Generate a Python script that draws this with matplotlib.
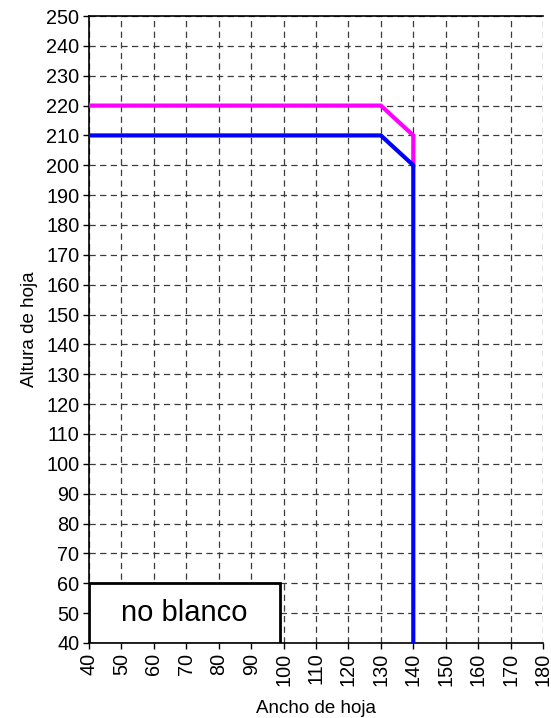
import matplotlib
matplotlib.use("Agg")
import matplotlib.pyplot as plt
from matplotlib.patches import Rectangle

plt.rcParams['font.family'] = ['Liberation Sans', 'DejaVu Sans']

x_magenta = [40, 130, 140, 140]
y_magenta = [220, 220, 210, 200]
x_blue = [40, 130, 140, 140]
y_blue = [210, 210, 200, 40]
x_ticks = list(range(40, 181, 10))
y_ticks = list(range(40, 251, 10))
box_label = "no blanco"
box_x = [40, 98.9]
box_y = [40, 60]

fig = plt.figure(figsize=(5.51, 7.18), dpi=100)
ax = fig.add_axes([0.1615, 0.1045, 0.824, 0.8732])
ax.set_xlim(40, 180)
ax.set_ylim(40, 250)
ax.set_xticks(x_ticks)
ax.set_yticks(y_ticks)
ax.tick_params(axis='both', labelsize=14.3, length=4, width=1, direction='out', color='black', pad=3)
ax.tick_params(axis='x', labelrotation=90)
ax.grid(True, color='#3a3a3a', linestyle=(0, (5, 3.5)), linewidth=0.9)
ax.set_axisbelow(True)
ax.spines['right'].set_visible(False)
for s in ['left', 'bottom', 'top']:
    ax.spines[s].set_linewidth(1.2)

ax.plot(x_magenta, y_magenta, color='#FF00FF', linewidth=3, solid_joinstyle='miter', zorder=3)
ax.plot(x_blue, y_blue, color='#0000FF', linewidth=3, solid_joinstyle='miter', zorder=4)

rect = Rectangle((box_x[0], box_y[0]), box_x[1] - box_x[0], box_y[1] - box_y[0],
                 facecolor='white', edgecolor='black', linewidth=2, zorder=5)
ax.add_patch(rect)
ax.text((box_x[0] + box_x[1]) / 2, (box_y[0] + box_y[1]) / 2, box_label,
        ha='center', va='center', fontsize=21, zorder=6)

ax.set_xlabel("Ancho de hoja", fontsize=13.5, labelpad=10)
ax.set_ylabel("Altura de hoja", fontsize=13.5, labelpad=6)

fig.savefig("out.png", dpi=100)
